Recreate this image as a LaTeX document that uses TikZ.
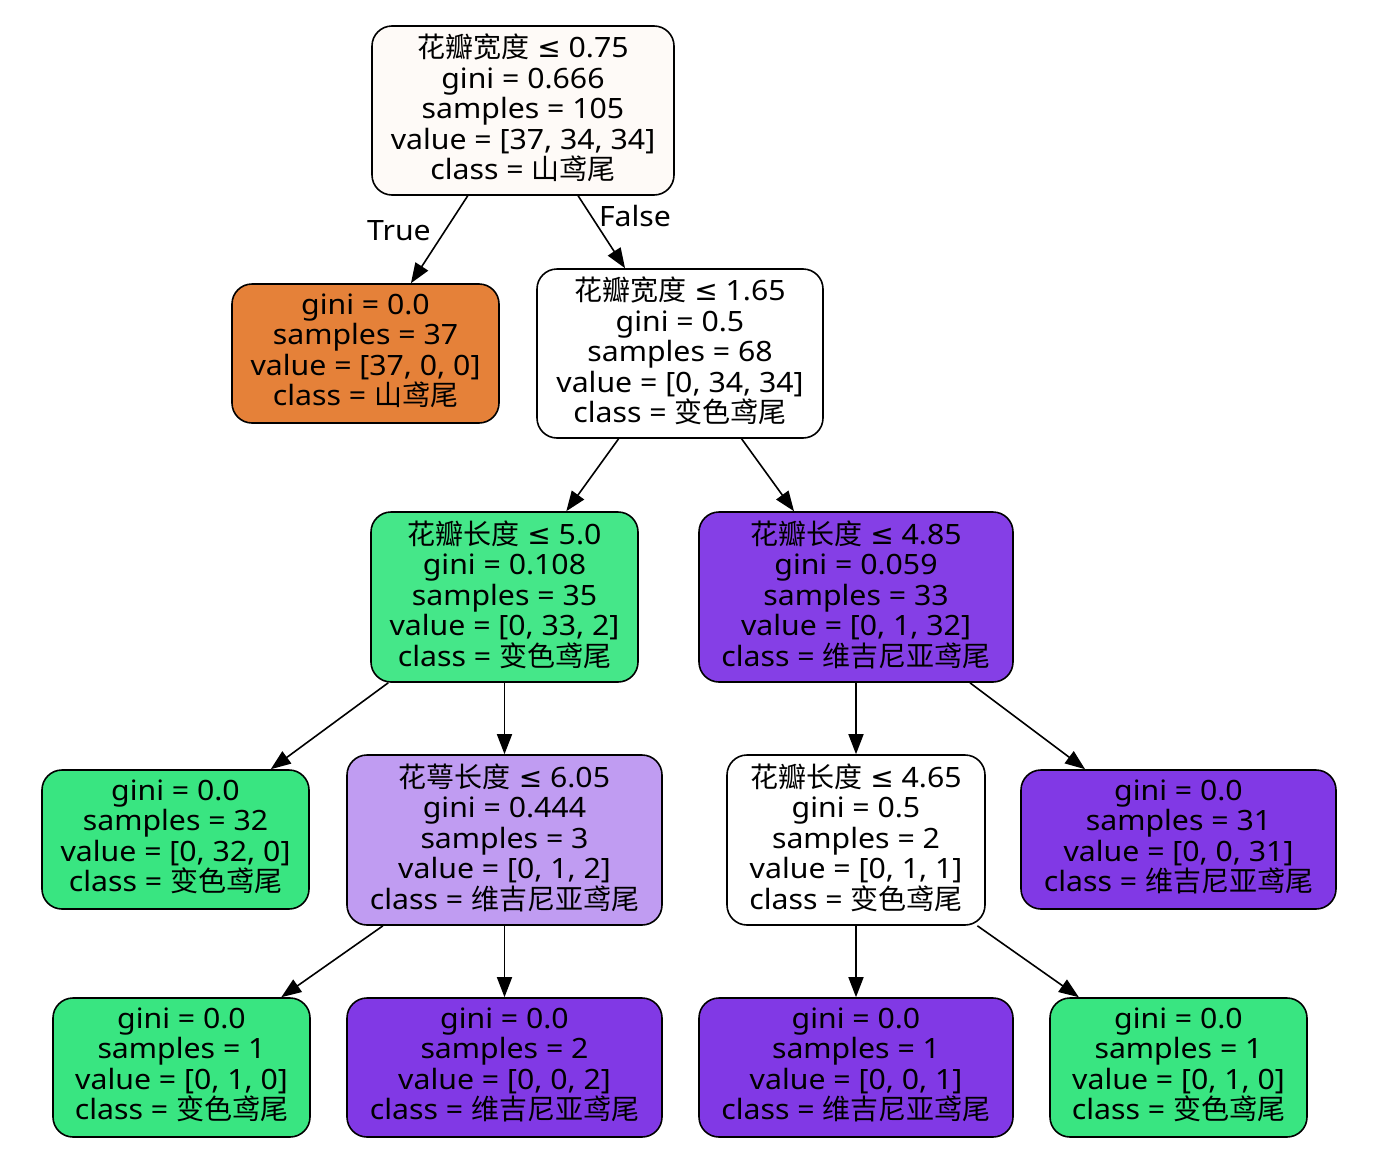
\documentclass[tikz,border=0pt]{standalone}
\usepackage{fontspec}
\setmainfont{Noto Sans}[FakeStretch=1.08]
\newfontfamily\cjk{Noto Sans CJK SC}
\newfontfamily\symfont{DejaVu Sans}
\newcommand{\zh}[1]{{\cjk #1}}
\newcommand{\myle}{{\symfont ≤}}
\usetikzlibrary{arrows.meta}
\definecolor{cRoot}{HTML}{FEFAF7}
\definecolor{cOrange}{HTML}{E58139}
\definecolor{cGreen}{HTML}{39E581}
\definecolor{cGreenL}{HTML}{45E789}
\definecolor{cPurple}{HTML}{8139E5}
\definecolor{cPurpleA}{HTML}{853FE6}
\definecolor{cPurpleL}{HTML}{C09CF2}
\tikzset{
  tnode/.style={draw=black, line width=1.6pt, rounded corners=20pt, inner sep=0pt},
  ttext/.style={align=center, inner sep=0pt, yshift=2.5pt, font=\fontsize{28}{30.5}\selectfont},
  conn/.style={line width=1.6pt, -{Triangle[length=20pt,width=15pt]}},
  elab/.style={font=\fontsize{28}{30.5}\selectfont, inner sep=0pt}
}
\begin{document}
\begin{tikzpicture}[x=1pt,y=-1pt]
\useasboundingbox (0,0) rectangle (1390,1170);
\node[tnode, fill=cRoot, minimum width=302pt, minimum height=169pt,
  label={[ttext]center:\zh{花瓣宽度} \myle{} 0.75\\gini = 0.666\\samples = 105\\value = [37, 34, 34]\\class = \zh{山鸢尾}}] (n0) at (523,110.5) {};
\node[tnode, fill=cOrange, minimum width=267pt, minimum height=139pt,
  label={[ttext]center:gini = 0.0\\samples = 37\\value = [37, 0, 0]\\class = \zh{山鸢尾}}] (n1) at (365.5,353.5) {};
\node[tnode, fill=white, minimum width=286pt, minimum height=169pt,
  label={[ttext]center:\zh{花瓣宽度} \myle{} 1.65\\gini = 0.5\\samples = 68\\value = [0, 34, 34]\\class = \zh{变色鸢尾}}] (n2) at (680,353.5) {};
\node[tnode, fill=cGreenL, minimum width=267pt, minimum height=170pt,
  label={[ttext]center:\zh{花瓣长度} \myle{} 5.0\\gini = 0.108\\samples = 35\\value = [0, 33, 2]\\class = \zh{变色鸢尾}}] (n3) at (504.5,597) {};
\node[tnode, fill=cPurpleA, minimum width=314pt, minimum height=170pt,
  label={[ttext]center:\zh{花瓣长度} \myle{} 4.85\\gini = 0.059\\samples = 33\\value = [0, 1, 32]\\class = \zh{维吉尼亚鸢尾}}] (n4) at (856,597) {};
\node[tnode, fill=cGreen, minimum width=267pt, minimum height=139pt,
  label={[ttext]center:gini = 0.0\\samples = 32\\value = [0, 32, 0]\\class = \zh{变色鸢尾}}] (n5) at (175.5,839.5) {};
\node[tnode, fill=cPurpleL, minimum width=315pt, minimum height=170pt,
  label={[ttext]center:\zh{花萼长度} \myle{} 6.05\\gini = 0.444\\samples = 3\\value = [0, 1, 2]\\class = \zh{维吉尼亚鸢尾}}] (n6) at (504.5,840) {};
\node[tnode, fill=white, minimum width=258pt, minimum height=170pt,
  label={[ttext]center:\zh{花瓣长度} \myle{} 4.65\\gini = 0.5\\samples = 2\\value = [0, 1, 1]\\class = \zh{变色鸢尾}}] (n7) at (856,840) {};
\node[tnode, fill=cPurple, minimum width=315pt, minimum height=139pt,
  label={[ttext]center:gini = 0.0\\samples = 31\\value = [0, 0, 31]\\class = \zh{维吉尼亚鸢尾}}] (n8) at (1178.5,839.5) {};
\node[tnode, fill=cGreen, minimum width=257pt, minimum height=139pt,
  label={[ttext]center:gini = 0.0\\samples = 1\\value = [0, 1, 0]\\class = \zh{变色鸢尾}}] (n9) at (181.5,1067.5) {};
\node[tnode, fill=cPurple, minimum width=315pt, minimum height=139pt,
  label={[ttext]center:gini = 0.0\\samples = 2\\value = [0, 0, 2]\\class = \zh{维吉尼亚鸢尾}}] (n10) at (504.5,1067.5) {};
\node[tnode, fill=cPurple, minimum width=314pt, minimum height=139pt,
  label={[ttext]center:gini = 0.0\\samples = 1\\value = [0, 0, 1]\\class = \zh{维吉尼亚鸢尾}}] (n11) at (856,1067.5) {};
\node[tnode, fill=cGreen, minimum width=257pt, minimum height=139pt,
  label={[ttext]center:gini = 0.0\\samples = 1\\value = [0, 1, 0]\\class = \zh{变色鸢尾}}] (n12) at (1178.5,1067.5) {};
\draw[conn] (n0) -- (n1);
\draw[conn] (n0) -- (n2);
\draw[conn] (n2) -- (n3);
\draw[conn] (n2) -- (n4);
\draw[conn] (n3) -- (n5);
\draw[conn] (n3) -- (n6);
\draw[conn] (n4) -- (n7);
\draw[conn] (n4) -- (n8);
\draw[conn] (n6) -- (n9);
\draw[conn] (n6) -- (n10);
\draw[conn] (n7) -- (n11);
\draw[conn] (n7) -- (n12);
\node[elab] (lt) at (399,231) {True};
\node[elab] (lf) at (635,216) {False};
\end{tikzpicture}
\end{document}
